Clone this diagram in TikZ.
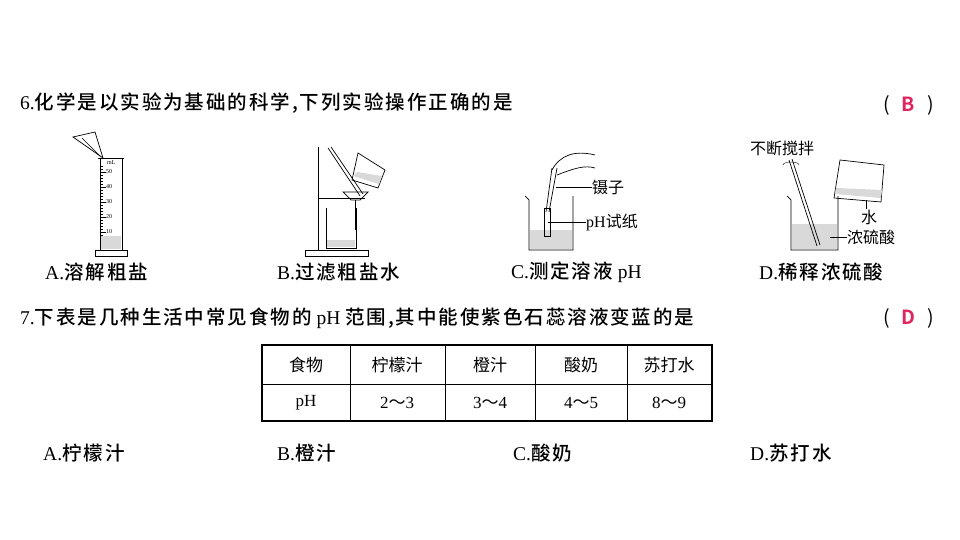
\documentclass[tikz,border=0pt]{standalone}
\usepackage{fontspec}
\setmainfont{Liberation Serif}
\newfontfamily\cjk{Noto Sans CJK SC}[BoldFont={Noto Sans CJK SC Bold}]
\newfontfamily\cjkm{Noto Sans CJK SC Medium}[LetterSpace=10]
\definecolor{ans}{HTML}{E0245E}
\begin{document}
\begin{tikzpicture}[x=1pt,y=-1pt,
  txt/.style={anchor=west,inner sep=0pt,font=\fontsize{19.5}{19.5}\selectfont},
  sm/.style={anchor=west,inner sep=0pt,font=\fontsize{16}{16}\selectfont},
  tiny/.style={inner sep=0pt,font=\fontsize{6}{6}\selectfont},
  cell/.style={inner sep=0pt,font=\fontsize{17}{17}\selectfont},
  ln/.style={line width=0.7pt}]
\useasboundingbox (0,0) rectangle (960,540);
% Q6
\node[txt] (q6) at (20,103) {6.{\cjkm 化学是以实验为基础的科学,下列实验操作正确的是}};
\node[txt] (a6) at (883,105) {{\cjk (}\hspace{12pt}{\cjk\color{ans}\bfseries B}\hspace{12pt}{\cjk )}};
% A cylinder
\draw[ln] (100,158) -- (100,250) (122,158) -- (122,250);
\draw[ln] (95,250) rectangle (127,256);
\draw[ln] (98,158) -- (124,158);
\foreach \y/\t in {172/50,187/40,202/30,217/20,232/10}{
  \draw (100,\y) -- (106,\y);
  \node[tiny,anchor=west] (n\t) at (106,\y) {\t};}
\node[tiny,anchor=west] (ml) at (107,163) {mL};
\foreach \y in {166,169,...,246} \draw[line width=0.3pt] (100,\y) -- (103,\y);
\fill[black!15] (101,236) rectangle (121,249);
\draw[ln] (73,137) -- (95,132) -- (103,158) -- cycle;
\draw[ln] (82,138) -- (100,156);
% B filtration
\draw[line width=1pt] (318,147) -- (318,250);
\draw[ln] (305,250) rectangle (368,256);
\draw[ln] (318,198) -- (365,198);
\draw[ln] (343,192) -- (368,192) -- (360,200) -- (351,200) -- cycle;
\draw[ln] (355,200) -- (355,230);
\draw[ln] (326,208) -- (326,248) -- (356,248) -- (356,208);
\fill[black!15] (327,240) rectangle (355,247);
\draw[ln] (328,148) -- (360,196) (331,147) -- (363,194);
\draw[ln] (358,153) -- (385,170) -- (378,188) -- (352,180) -- cycle;
\fill[black!15] (353,176) -- (379,184) -- (382,176) -- (357,172) -- cycle;
% C pH
\draw[ln] (525,196) -- (529,200) -- (529,250) -- (573,250) -- (573,196);
\fill[black!15] (530,230) rectangle (572,249);
\draw[ln] (544,208) rectangle (550,236);
\draw[ln] (552,168) -- (546,212) (557,168) -- (549,212);
\draw[ln] (552,170) .. controls (560,155) and (575,150) .. (595,155);
\draw[ln] (557,175) .. controls (575,168) and (585,165) .. (595,168);
\coordinate (tw) at (556,187);
\coordinate (ph) at (548,222);
\node[sm] (lt) at (592,187) {{\cjk 镊子}};
\node[sm] (lp) at (586,222) {pH{\cjk 试纸}};
\draw (tw) -- (lt.west);
\draw (ph) -- (lp.west);
% D dilution
\draw[ln] (787,196) -- (791,200) -- (791,250) -- (838,250) -- (838,196);
\fill[black!15] (792,224) rectangle (837,249);
\draw[ln] (789,160) -- (817,246) (792,159) -- (820,245);
\draw (783,165) arc (180:360:8 and 3);
\node[sm] (ls) at (750,148) {{\cjk 不断搅拌}};
\draw[ln] (840,160) -- (884,165) -- (881,202) -- (834,198) -- cycle;
\fill[black!15] (835,194) -- (881,198) -- (882,190) -- (836,188) -- cycle;
\coordinate (w) at (866,200);
\coordinate (s) at (830,237);
\node[sm] (lw) at (861,217) {{\cjk 水}};
\node[sm] (la) at (847,237) {{\cjk 浓硫酸}};
\draw (w) -- (lw.north -| w);
\draw (s) -- (la.west);
% labels
\node[txt] (oa) at (45,272) {A.{\cjkm 溶解粗盐}};
\node[txt] (ob) at (277,272) {B.{\cjkm 过滤粗盐水}};
\node[txt] (oc) at (511,272) {C.{\cjkm 测定溶液} pH};
\node[txt] (od) at (759,272) {D.{\cjkm 稀释浓硫酸}};
% Q7
\node[txt] (q7) at (20,318) {7.{\cjkm 下表是几种生活中常见食物的} pH {\cjkm 范围,其中能使紫色石蕊溶液变蓝的是}};
\node[txt] (a7) at (883,318) {{\cjk (}\hspace{12pt}{\cjk\color{ans}\bfseries D}\hspace{12pt}{\cjk )}};
% table
\draw[line width=1.2pt] (262,345) rectangle (712,421);
\draw[line width=0.5pt] (262,384) -- (712,384);
\foreach \x in {350,445,535,627} \draw[line width=0.5pt] (\x,345) -- (\x,421);
\node[cell] (h1) at (306,365) {\cjk 食物};
\node[cell] (h2) at (397,365) {\cjk 柠檬汁};
\node[cell] (h3) at (490,365) {\cjk 橙汁};
\node[cell] (h4) at (581,365) {\cjk 酸奶};
\node[cell] (h5) at (669,365) {\cjk 苏打水};
\node[cell] (r1) at (306,403) {pH};
\node[cell] (r2) at (397,403) {2{\cjk ～}3};
\node[cell] (r3) at (490,403) {3{\cjk ～}4};
\node[cell] (r4) at (581,403) {4{\cjk ～}5};
\node[cell] (r5) at (669,403) {8{\cjk ～}9};
\node[txt] (pa) at (43,453) {A.{\cjkm 柠檬汁}};
\node[txt] (pb) at (277,453) {B.{\cjkm 橙汁}};
\node[txt] (pc) at (513,453) {C.{\cjkm 酸奶}};
\node[txt] (pd) at (750,453) {D.{\cjkm 苏打水}};
\end{tikzpicture}
\end{document}
